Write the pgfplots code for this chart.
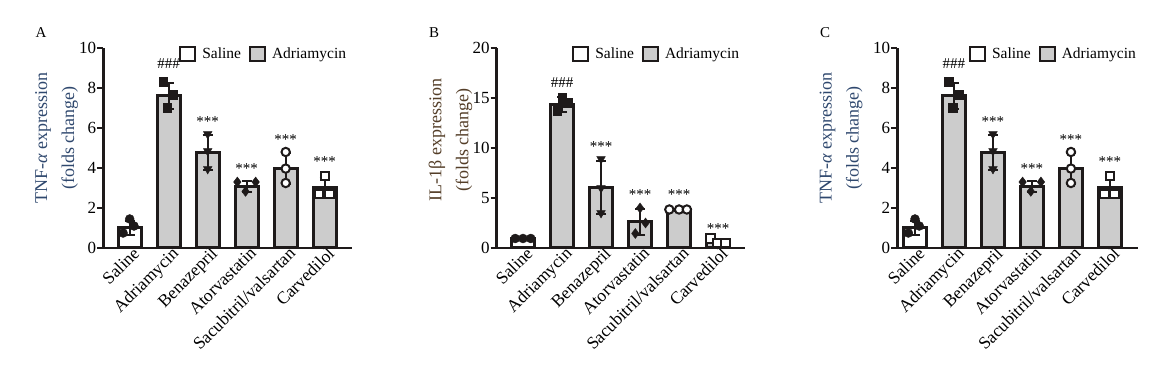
\documentclass[border=0pt]{standalone}
\usepackage{fontspec}
\setmainfont{Liberation Serif}
\usepackage{pgfplots}
\pgfplotsset{compat=1.18}
\definecolor{barfill}{RGB}{204,204,204}
\definecolor{ink}{RGB}{30,26,26}
\definecolor{labA}{RGB}{47,72,110}
\definecolor{labB}{RGB}{84,62,40}
\newcommand{\fs}{\fontsize{15.5}{19}\selectfont}
\newcommand{\ft}{\fontsize{17}{20}\selectfont}
\newcommand{\fx}{\fontsize{17.5}{20}\selectfont}
\newcommand{\sg}{\fontsize{15}{15}\selectfont}

\pgfplotsset{
 panel/.style={
  scale only axis, height=200pt, ymin=0,
  axis x line*=bottom, axis y line*=left,
  axis line style={line width=2.5pt, ink},
  xtick={0,...,5},
  xticklabels={Saline,Adriamycin,Benazepril,Atorvastatin,Sacubitril/valsartan,Carvedilol},
  xtick align=inside, ytick align=outside,
  major tick length=6pt,
  every tick/.style={line width=2pt, ink},
  x tick label style={rotate=45, anchor=north east, inner sep=0pt, font=\fx, xshift=3pt},
  y tick label style={font=\ft, inner sep=1pt},
  /pgf/number format/assume math mode=true,
  legend style={draw=none, fill=none, font=\fs, legend columns=2, inner sep=0pt,
    /tikz/every odd column/.append style={column sep=4pt},
    /tikz/every even column/.append style={column sep=6pt}},
  ylabel style={align=center, font=\fontsize{18}{27}\selectfont, anchor=center},
  clip=false,
 },
 bars/.style={ybar, bar width=23pt, bar shift=0pt, draw=ink, line width=3pt,
   legend image code/.code={\draw[##1, line width=2pt] (0pt,-7pt) rectangle (15pt,7pt);}},
 eb/.style={forget plot, draw=none, mark=none, error bars/.cd, y dir=both, y explicit,
   error bar style={draw=ink, line width=2pt},
   error mark options={draw=ink, line width=2pt, mark size=5pt, rotate=90}},
 pts/.style={forget plot, only marks, mark size=4.5pt, draw=ink, fill=ink},
 opn/.style={forget plot, only marks, mark size=4.2pt, mark options={draw=ink, fill=white, line width=2pt}},
}

\begin{document}
\begin{tikzpicture}
\path[use as bounding box] (0pt,0pt) rectangle (1149pt,382pt);

% ---------------- Panel A ----------------
\begin{axis}[panel, at={(103.3pt,134pt)}, anchor=south west, width=248.7pt,
  xmin=-0.677, xmax=5.70, ymax=10, ytick={0,2,...,10},
  ylabel={TNF-{\itshape α} expression\\(folds change)},
  ylabel style={at={(axis description cs:-0.188,0.55)}, text=labA},
  legend style={at={(0.985,1.012)}, anchor=north east}]
\addplot[bars, fill=white] coordinates {(0,1.0)};
\addplot[bars, fill=barfill] coordinates {(1,7.6) (2,4.78) (3,3.07) (4,3.97) (5,3.0)};
\legend{Saline,Adriamycin}
\addplot[eb] coordinates {(0,1.0) +- (0,0.33) (1,7.6) +- (0,0.65) (2,4.78) +- (0,0.89) (3,3.07) +- (0,0.27) (4,3.97) +- (0,0.78) (5,3.0) +- (0,0.52)};
\addplot[pts, mark=*] coordinates {(0,1.45) (0.11,1.1) (-0.17,0.75)};
\addplot[pts, mark=square*, mark size=4.3pt] coordinates {(0.86,8.3) (1.12,7.65) (0.96,7.0)};
\addplot[pts, mark=triangle*, mark size=5pt, mark options={rotate=180}] coordinates {(2,5.7) (2,4.85) (2,3.95)};
\addplot[pts, mark=diamond*, mark size=5pt] coordinates {(2.76,3.3) (3.23,3.3) (2.97,2.83)};
\addplot[opn, mark=*] coordinates {(4,4.8) (4,3.97) (4,3.25)};
\addplot[opn, mark=square*] coordinates {(5,3.6) (4.86,2.7) (5.12,2.7)};
\node[font=\sg] at (axis cs:1,9.2) {\#\#\#};
\node[font=\sg] at (axis cs:2,6.3) {***};
\node[font=\sg] at (axis cs:3,3.97) {***};
\node[font=\sg] at (axis cs:4,5.4) {***};
\node[font=\sg] at (axis cs:5,4.3) {***};
\end{axis}

% ---------------- Panel B ----------------
\begin{axis}[panel, at={(496.7pt,134pt)}, anchor=south west, width=248.3pt,
  xmin=-0.674, xmax=5.69, ymax=20, ytick={0,5,...,20},
  ylabel={IL-1β expression\\(folds change)},
  ylabel style={at={(axis description cs:-0.186,0.54)}, text=labB},
  legend style={at={(0.985,1.012)}, anchor=north east}]
\addplot[bars, fill=white] coordinates {(0,0.95)};
\addplot[bars, fill=barfill] coordinates {(1,14.3) (2,6.0) (3,2.63) (4,3.8) (5,0.65)};
\legend{Saline,Adriamycin}
\addplot[eb] coordinates {(0,0.95) +- (0,0.05) (1,14.3) +- (0,0.75) (2,6.0) +- (0,2.65) (3,2.63) +- (0,1.3) (4,3.8) +- (0,0.08) (5,0.65) +- (0,0.26)};
\addplot[pts, mark=*] coordinates {(-0.2,0.95) (0,0.95) (0.2,0.95)};
\addplot[pts, mark=square*, mark size=4.3pt] coordinates {(0.88,13.7) (1.0,15.05) (1.15,14.5)};
\addplot[pts, mark=triangle*, mark size=5pt, mark options={rotate=180}] coordinates {(2,8.9) (2,6.0) (2,3.5)};
\addplot[pts, mark=diamond*, mark size=5pt] coordinates {(3,4.0) (3.14,2.5) (2.88,1.45)};
\addplot[opn, mark=*] coordinates {(3.75,3.85) (4,3.85) (4.2,3.85)};
\addplot[opn, mark=square*] coordinates {(4.81,0.95) (4.98,0.5) (5.19,0.5)};
\node[font=\sg] at (axis cs:1,16.5) {\#\#\#};
\node[font=\sg] at (axis cs:2,10.1) {***};
\node[font=\sg] at (axis cs:3,5.3) {***};
\node[font=\sg] at (axis cs:4,5.3) {***};
\node[font=\sg] at (axis cs:5,1.9) {***};
\end{axis}

% ---------------- Panel C ----------------
\begin{axis}[panel, at={(897.3pt,134pt)}, anchor=south west, width=240.7pt,
  xmin=-0.454, xmax=5.72, ymax=10, ytick={0,2,...,10},
  ylabel={TNF-{\itshape α} expression\\(folds change)},
  ylabel style={at={(axis description cs:-0.234,0.55)}, text=labA},
  legend style={at={(1.0,1.012)}, anchor=north east}]
\addplot[bars, fill=white] coordinates {(0,1.0)};
\addplot[bars, fill=barfill] coordinates {(1,7.6) (2,4.78) (3,3.07) (4,3.97) (5,3.0)};
\legend{Saline,Adriamycin}
\addplot[eb] coordinates {(0,1.0) +- (0,0.33) (1,7.6) +- (0,0.65) (2,4.78) +- (0,0.89) (3,3.07) +- (0,0.27) (4,3.97) +- (0,0.78) (5,3.0) +- (0,0.52)};
\addplot[pts, mark=*] coordinates {(0,1.45) (0.11,1.1) (-0.17,0.75)};
\addplot[pts, mark=square*, mark size=4.3pt] coordinates {(0.86,8.3) (1.12,7.65) (0.96,7.0)};
\addplot[pts, mark=triangle*, mark size=5pt, mark options={rotate=180}] coordinates {(2,5.7) (2,4.85) (2,3.95)};
\addplot[pts, mark=diamond*, mark size=5pt] coordinates {(2.76,3.3) (3.23,3.3) (2.97,2.83)};
\addplot[opn, mark=*] coordinates {(4,4.8) (4,3.97) (4,3.25)};
\addplot[opn, mark=square*] coordinates {(5,3.6) (4.86,2.7) (5.12,2.7)};
\node[font=\sg] at (axis cs:1,9.2) {\#\#\#};
\node[font=\sg] at (axis cs:2,6.3) {***};
\node[font=\sg] at (axis cs:3,3.97) {***};
\node[font=\sg] at (axis cs:4,5.4) {***};
\node[font=\sg] at (axis cs:5,4.3) {***};
\end{axis}

\node[font=\fontsize{15}{15}\selectfont] at (41pt,349pt) {A};
\node[font=\fontsize{15}{15}\selectfont] at (434pt,349pt) {B};
\node[font=\fontsize{15}{15}\selectfont] at (825pt,349pt) {C};
\end{tikzpicture}
\end{document}
